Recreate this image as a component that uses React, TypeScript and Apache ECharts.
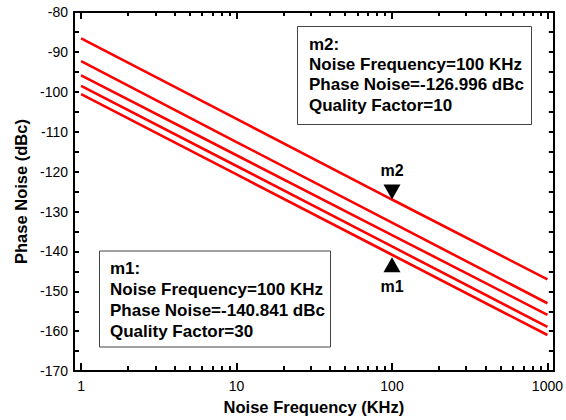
import React, { useEffect, useRef } from "react";
import * as echarts from "echarts";

const freqKHz = [1, 10, 100, 1000];
const curve1 = [-86.6, -106.8, -127.0, -147.0];
const curve2 = [-92.3, -112.6, -132.8, -153.0];
const curve3 = [-95.9, -115.9, -135.9, -155.9];
const curve4 = [-98.5, -118.6, -138.75, -158.9];
const curve5 = [-100.6, -120.7, -140.841, -160.95];
const curves = [curve1, curve2, curve3, curve4, curve5];

const xMajorTicks = [1, 10, 100, 1000];
const xMinorTicks = [2, 3, 4, 5, 6, 7, 8, 9, 20, 30, 40, 50, 60, 70, 80, 90, 200, 300, 400, 500, 600, 700, 800, 900];

const markerM2 = [100, -126.996];
const markerM1 = [100, -140.841];

const boxM2 = ["m2:", "Noise Frequency=100 KHz", "Phase Noise=-126.996 dBc", "Quality Factor=10"];
const boxM1 = ["m1:", "Noise Frequency=100 KHz", "Phase Noise=-140.841 dBc", "Quality Factor=30"];

const FONT = '"Liberation Sans", Arial, Helvetica, sans-serif';
const INK = "#000";

export default function App() {
  const ref = useRef<HTMLDivElement>(null);
  useEffect(() => {
    if (!ref.current) return;
    const chart = echarts.init(ref.current, undefined, { renderer: "svg" });
    const axisLine = { show: true, lineStyle: { color: INK, width: 2 } };
    const tickStyle = { color: INK, width: 2, opacity: 1 };
    const xBase = { type: "log", logBase: 10, min: 0.9, max: 1100, gridIndex: 0, splitLine: { show: false } };
    const yBase = { type: "value", min: -170, max: -80, interval: 10, splitLine: { show: false } };
    chart.setOption({
      animation: false,
      backgroundColor: "#fff",
      textStyle: { fontFamily: FONT },
      grid: { left: 74, right: 12, top: 12, bottom: 45, containLabel: false },
      xAxis: [
        {
          ...xBase,
          position: "bottom",
          axisLine,
          axisTick: { show: true, inside: true, length: 8, customValues: xMajorTicks, lineStyle: tickStyle },
          axisLabel: { show: true, customValues: xMajorTicks, formatter: (v: number) => String(v), color: "#000", fontSize: 14, fontFamily: FONT, margin: 8 },
          name: "Noise Frequency (KHz)",
          nameLocation: "middle",
          nameGap: 23,
          nameTextStyle: { color: "#000", fontSize: 16.5, fontWeight: "bold", fontFamily: FONT },
        },
        {
          ...xBase,
          position: "bottom",
          axisLine: { show: false },
          axisTick: { show: true, inside: true, length: 5, customValues: xMinorTicks, lineStyle: tickStyle },
          axisLabel: { show: false },
        },
        {
          ...xBase,
          position: "top",
          axisLine,
          axisTick: { show: true, inside: true, length: 7, customValues: xMajorTicks, lineStyle: tickStyle },
          axisLabel: { show: false },
        },
        {
          ...xBase,
          position: "top",
          axisLine: { show: false },
          axisTick: { show: true, inside: true, length: 4, customValues: xMinorTicks, lineStyle: tickStyle },
          axisLabel: { show: false },
        },
      ],
      yAxis: [
        {
          ...yBase,
          position: "left",
          axisLine,
          axisTick: { show: true, inside: true, length: 5, lineStyle: tickStyle },
          minorTick: { show: true, splitNumber: 2, length: 5, lineStyle: tickStyle },
          minorSplitLine: { show: false },
          axisLabel: { show: true, color: "#000", fontSize: 14, fontFamily: FONT, margin: 6 },
          name: "Phase Noise (dBc)",
          nameLocation: "middle",
          nameGap: 45,
          nameTextStyle: { color: "#000", fontSize: 16.5, fontWeight: "bold", fontFamily: FONT },
        },
        {
          ...yBase,
          position: "right",
          axisLine,
          axisTick: { show: true, inside: true, length: 5, lineStyle: tickStyle },
          minorTick: { show: true, splitNumber: 2, length: 5, lineStyle: tickStyle },
          minorSplitLine: { show: false },
          axisLabel: { show: false },
        },
      ],
      series: [
        ...curves.map((c, i) => ({
          type: "line",
          name: "curve" + (i + 1),
          xAxisIndex: 0,
          yAxisIndex: 0,
          data: freqKHz.map((f, j) => [f, c[j]]),
          showSymbol: false,
          symbol: "none",
          lineStyle: { color: "#ff0000", width: 2.6 },
          z: 2,
        })),
        {
          type: "scatter",
          name: "m2",
          xAxisIndex: 0,
          yAxisIndex: 0,
          data: [markerM2],
          symbol: "triangle",
          symbolSize: [17, 15],
          symbolRotate: 180,
          symbolOffset: [0, -7.5],
          itemStyle: { color: "#000", opacity: 1 },
          label: {
            show: true,
            position: "top",
            distance: 6,
            formatter: "m2",
            color: "#000",
            fontSize: 16,
            fontWeight: "bold",
            fontFamily: FONT,
          },
          z: 5,
        },
        {
          type: "scatter",
          name: "m1",
          xAxisIndex: 0,
          yAxisIndex: 0,
          data: [markerM1],
          symbol: "triangle",
          symbolSize: [17, 15],
          symbolOffset: [0, 10],
          itemStyle: { color: "#000", opacity: 1 },
          label: {
            show: true,
            position: "bottom",
            distance: 6,
            formatter: "m1",
            color: "#000",
            fontSize: 16,
            fontWeight: "bold",
            fontFamily: FONT,
          },
          z: 5,
        },
      ],
      graphic: [
        {
          type: "rect",
          shape: { x: 297.5, y: 26.5, width: 234, height: 98 },
          style: { fill: "#fff", stroke: "#444", lineWidth: 1 },
          z: 10,
        },
        {
          type: "text",
          x: 309,
          y: 34,
          style: { text: boxM2.join("\n"), font: `bold 17px ${FONT}`, lineHeight: 20.3, fill: "#000" },
          z: 11,
        },
        {
          type: "rect",
          shape: { x: 99.5, y: 251, width: 231, height: 96 },
          style: { fill: "#fff", stroke: "#444", lineWidth: 1 },
          z: 10,
        },
        {
          type: "text",
          x: 110,
          y: 258,
          style: { text: boxM1.join("\n"), font: `bold 17px ${FONT}`, lineHeight: 21, fill: "#000" },
          z: 11,
        },
      ],
    });
    return () => chart.dispose();
  }, []);
  return <div ref={ref} style={{ position: "fixed", left: 0, top: 0, width: 566, height: 420 }} />;
}
